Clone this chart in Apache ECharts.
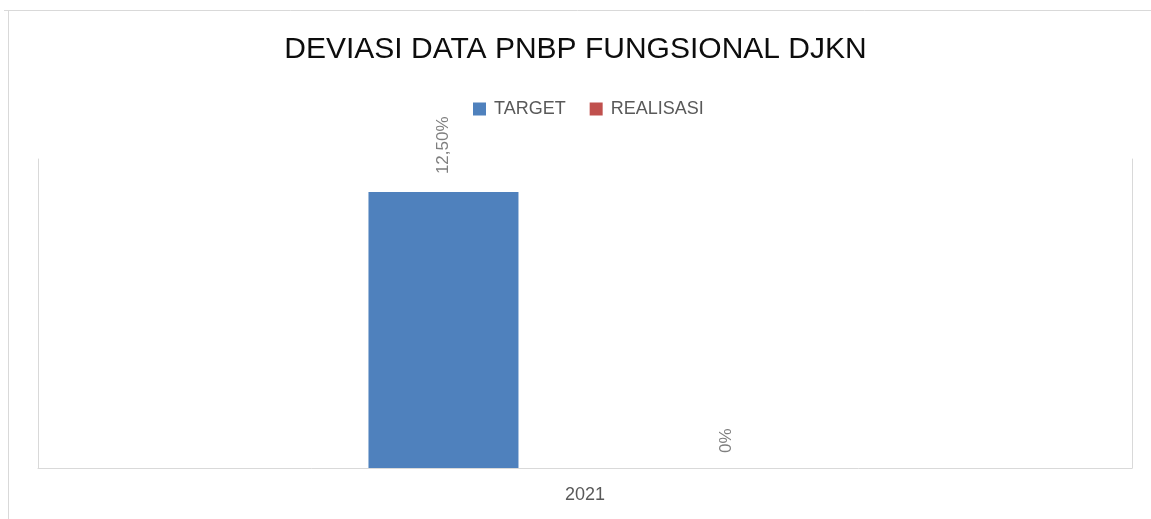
<!DOCTYPE html>
<html>
<head>
<meta charset="utf-8">
<script src="https://cdn.jsdelivr.net/npm/echarts@6/dist/echarts.min.js"></script>
<style>
html,body{margin:0;padding:0;background:#fff;}
#c{width:1151px;height:519px;}
</style>
</head>
<body>
<div id="c"></div>
<script>
var titleText = 'DEVIASI DATA PNBP FUNGSIONAL DJKN';
var categories = ['2021'];
var seriesNames = ['TARGET', 'REALISASI'];
var targetValues = [12.5];
var realisasiValues = [0];
var valueLabels = { TARGET: ['12,50%'], REALISASI: ['0%'] };

var chart = echarts.init(document.getElementById('c'), null, { renderer: 'canvas' });
var font = 'Liberation Sans, Arial, sans-serif';

function labelFor(name, dist) {
  return {
    show: true,
    position: 'top',
    rotate: 90,
    align: 'left',
    verticalAlign: 'middle',
    distance: dist,
    color: '#7f7f7f',
    fontFamily: font,
    fontSize: 17,
    formatter: function (p) { return valueLabels[name][p.dataIndex]; }
  };
}

chart.setOption({
  animation: false,
  backgroundColor: '#ffffff',
  title: {
    text: titleText,
    left: 'center',
    top: 30,
    textStyle: { fontFamily: font, fontSize: 30, fontWeight: 'normal', color: '#0d0d0d' }
  },
  legend: {
    data: seriesNames,
    left: 468,
    top: 95,
    itemWidth: 13,
    itemHeight: 13,
    itemGap: 24,
    icon: 'rect',
    textStyle: { fontFamily: font, fontSize: 18, color: '#595959', padding: [0, 0, 0, 3] }
  },
  grid: { left: 38, right: 19, top: 159, bottom: 51, containLabel: false },
  xAxis: {
    type: 'category',
    data: categories,
    axisLine: { show: true, lineStyle: { color: '#d9d9d9', width: 1 } },
    axisTick: { show: false },
    axisLabel: { margin: 18, color: '#595959', fontFamily: font, fontSize: 18 },
    splitLine: { show: false }
  },
  yAxis: [
    {
      type: 'value', min: 0, max: 14, interval: 2,
      axisLine: { show: true, lineStyle: { color: '#d9d9d9', width: 1 } },
      axisTick: { show: false }, axisLabel: { show: false }, splitLine: { show: false }
    },
    {
      type: 'value', min: 0, max: 14, interval: 2, position: 'right',
      axisLine: { show: true, lineStyle: { color: '#d9d9d9', width: 1 } },
      axisTick: { show: false }, axisLabel: { show: false }, splitLine: { show: false }
    }
  ],
  graphic: [
    { type: 'line', shape: { x1: 4, y1: 10.5, x2: 1151, y2: 10.5 }, style: { stroke: '#d9d9d9', lineWidth: 1 }, silent: true },
    { type: 'line', shape: { x1: 8.5, y1: 10, x2: 8.5, y2: 519 }, style: { stroke: '#d9d9d9', lineWidth: 1 }, silent: true }
  ],
  series: [
    {
      name: 'TARGET', type: 'bar', data: targetValues, yAxisIndex: 0,
      barWidth: 150, barGap: '88.7%',
      itemStyle: { color: '#4f81bd' },
      label: labelFor('TARGET', 18)
    },
    {
      name: 'REALISASI', type: 'bar', data: realisasiValues, yAxisIndex: 0,
      barWidth: 150, barGap: '88.7%',
      itemStyle: { color: '#c0504d' },
      label: labelFor('REALISASI', 15)
    }
  ]
});
</script>
</body>
</html>
